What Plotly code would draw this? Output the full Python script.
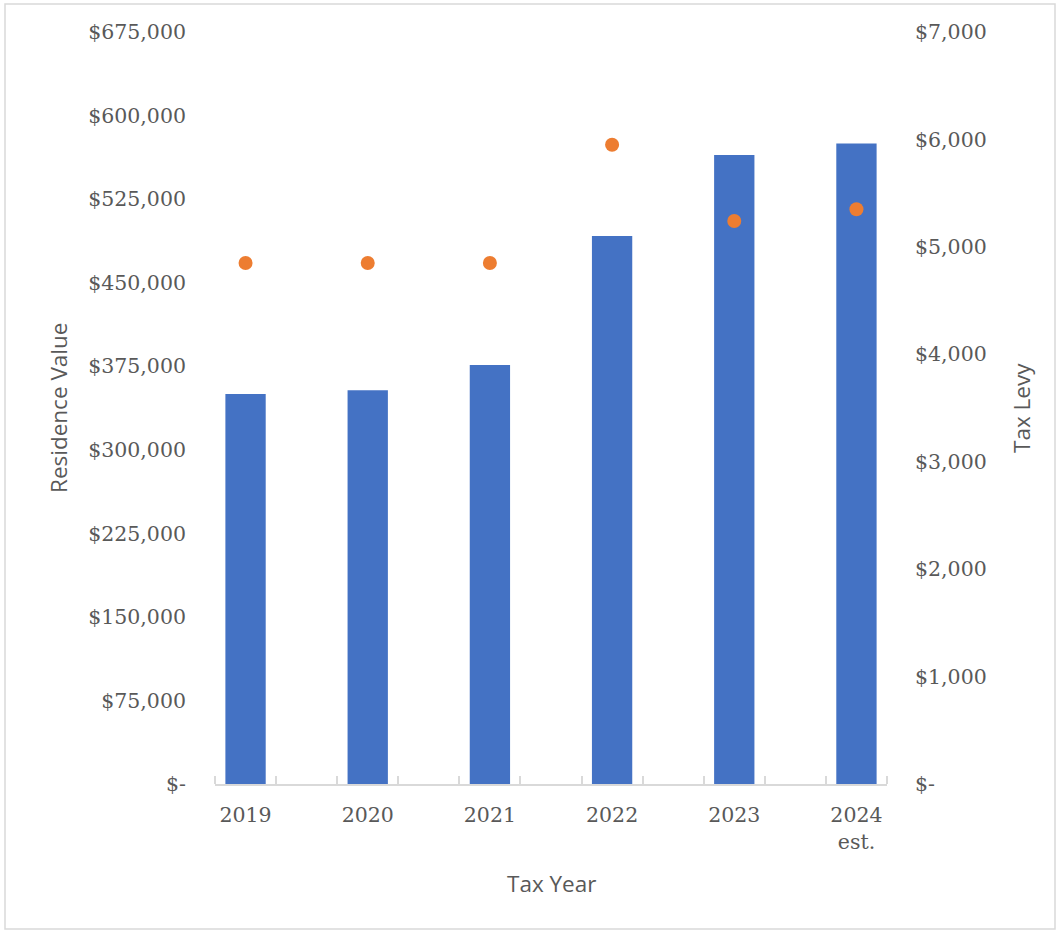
import plotly.graph_objects as go

# Tax years, assessed residence value and the annual tax levy
years = ["2019", "2020", "2021", "2022", "2023", "2024<br>est."]
residence_value = [350000, 353500, 376000, 492000, 564500, 575000]
tax_levy = [4850, 4850, 4850, 5950, 5240, 5350]

value_ticks = list(range(0, 675001, 75000))
levy_ticks = list(range(0, 7001, 1000))


def money(v):
    return "$-" if v == 0 else "${:,.0f}".format(v)


# every year sits on an even slot of an 11-slot category band
xpos = [2 * i for i in range(len(years))]

W, H = 1062, 932
ML, MR, MT, MB = 215, 175, 32, 148
PW, PH = W - ML - MR, H - MT - MB

GREY = "#595959"
TICK_FONT = dict(family="DejaVu Serif", size=20.5, color=GREY)
TITLE_FONT = dict(family="Open Sans", size=22.5, color=GREY)

fig = go.Figure()
fig.add_trace(go.Bar(
    x=xpos, y=residence_value, width=0.66,
    marker=dict(color="#4472C4", line=dict(width=0)),
    name="Residence Value",
))
fig.add_trace(go.Scatter(
    x=xpos, y=tax_levy, yaxis="y2", mode="markers",
    marker=dict(color="#ED7D31", size=14),
    name="Tax Levy",
))


def px_x(p):
    return (p - ML) / PW


def px_y(p):
    return (H - MB - p) / PH


fig.update_layout(
    width=W, height=H,
    margin=dict(l=ML, r=MR, t=MT, b=MB, autoexpand=False),
    paper_bgcolor="white", plot_bgcolor="white",
    showlegend=False,
    xaxis=dict(
        range=[-0.5, 10.5], tickvals=xpos, ticktext=years,
        ticks="", showgrid=False, zeroline=False,
        showline=True, linecolor="#D9D9D9", linewidth=1.5,
        tickfont=TICK_FONT, ticklabelstandoff=12,
        minor=dict(tick0=0.5, dtick=1, ticks="inside", ticklen=8,
                   tickcolor="#D9D9D9", tickwidth=1.5, showgrid=False),
    ),
    yaxis=dict(
        range=[0, 675000], tickvals=value_ticks,
        ticktext=[money(v) for v in value_ticks],
        showgrid=False, zeroline=False, showline=False, ticks="",
        tickfont=TICK_FONT, ticklabelstandoff=28,
    ),
    yaxis2=dict(
        range=[0, 7000], tickvals=levy_ticks,
        ticktext=[money(v) for v in levy_ticks],
        overlaying="y", side="right",
        showgrid=False, zeroline=False, showline=False, ticks="",
        tickfont=TICK_FONT, ticklabelstandoff=27,
    ),
    annotations=[
        dict(text="Residence Value", x=px_x(58), y=px_y(408), xref="paper", yref="paper",
             textangle=-90, showarrow=False, font=TITLE_FONT,
             xanchor="center", yanchor="middle"),
        dict(text="Tax Levy", x=px_x(1021), y=px_y(408), xref="paper", yref="paper",
             textangle=-90, showarrow=False, font=TITLE_FONT,
             xanchor="center", yanchor="middle"),
        dict(text="Tax Year", x=px_x(551), y=px_y(884), xref="paper", yref="paper",
             showarrow=False, font=TITLE_FONT,
             xanchor="center", yanchor="middle"),
    ],
    shapes=[
        dict(type="rect", xref="paper", yref="paper",
             x0=px_x(5), x1=px_x(1055), y0=px_y(4), y1=px_y(929),
             line=dict(color="#D9D9D9", width=1.5), fillcolor="rgba(0,0,0,0)",
             layer="below"),
    ],
)

fig.write_html("out.html")
